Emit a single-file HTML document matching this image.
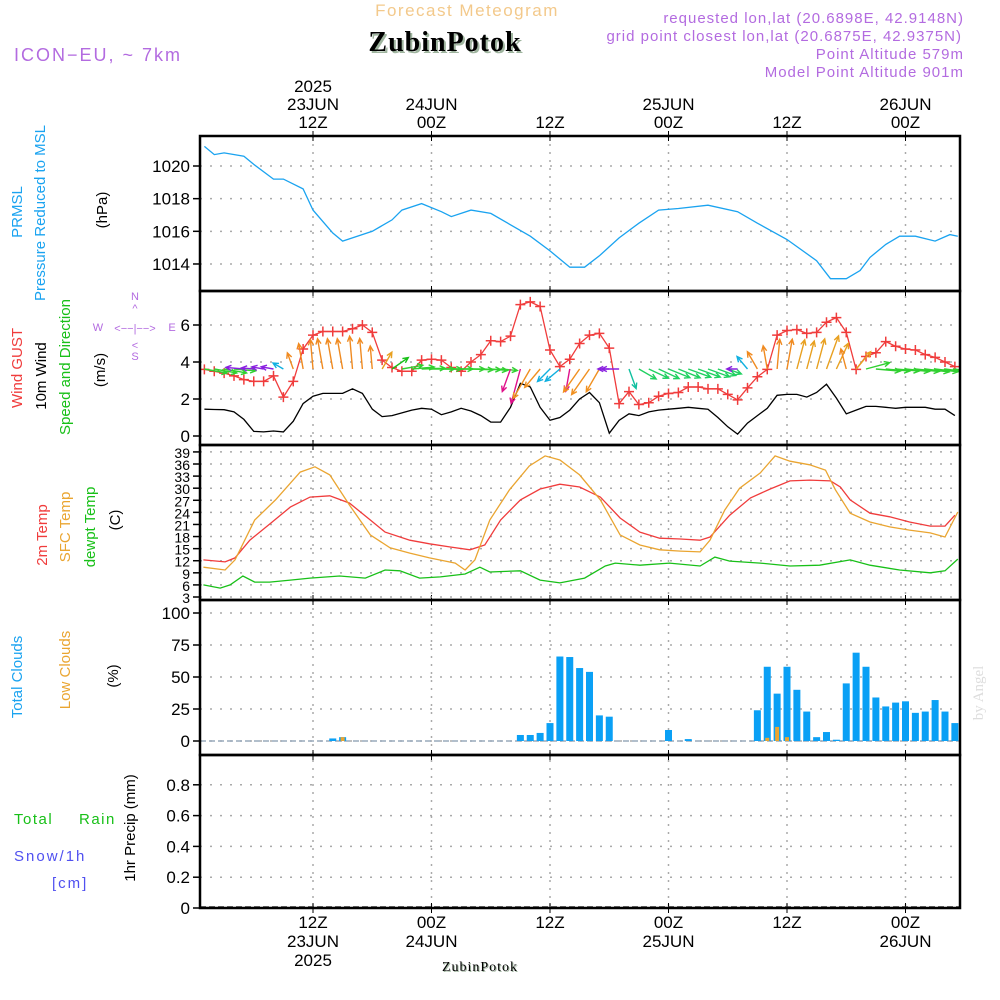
<!DOCTYPE html>
<html><head><meta charset="utf-8"><style>
body{margin:0;background:#fff}
svg{display:block;font-family:"Liberation Sans",sans-serif}
</style></head><body>
<svg id="chart" width="1000" height="1000" viewBox="0 0 1000 1000" xmlns="http://www.w3.org/2000/svg">
<defs><clipPath id="plotclip"><rect x="200" y="136" width="760" height="772"/></clipPath></defs>
<rect width="1000" height="1000" fill="#fff"/>
<text x="467" y="16" text-anchor="middle" font-size="17" fill="#f3c98b" letter-spacing="1.5">Forecast Meteogram</text>
<text x="447" y="53" text-anchor="middle" font-size="28" font-weight="bold" font-family="Liberation Serif, serif" fill="#9fb59f" letter-spacing="1">ZubinPotok</text>
<text x="445" y="51" text-anchor="middle" font-size="28" font-weight="bold" font-family="Liberation Serif, serif" fill="#000" letter-spacing="1">ZubinPotok</text>
<g font-size="15" fill="#b36be0" text-anchor="end" letter-spacing="1">
<text x="964" y="23">requested lon,lat (20.6898E, 42.9148N)</text>
<text x="962" y="41">grid point closest lon,lat (20.6875E, 42.9375N)</text>
<text x="964" y="59">Point Altitude 579m</text>
<text x="964" y="77">Model Point Altitude 901m</text>
</g>
<text x="14" y="61" font-size="18" fill="#b36be0" letter-spacing="2">ICON−EU, ~ 7km</text>
<g id="grid"></g>
<g id="marks" clip-path="url(#plotclip)"></g>
<g id="frame"></g>
<g id="labels" font-size="15">
<text transform="translate(22,212) rotate(-90)" text-anchor="middle" fill="#1aa3f0">PRMSL</text>
<text transform="translate(45,213) rotate(-90)" text-anchor="middle" fill="#1aa3f0">Pressure Reduced to MSL</text>
<text transform="translate(107,210) rotate(-90)" text-anchor="middle" fill="#000">(hPa)</text>
<text transform="translate(22,368) rotate(-90)" text-anchor="middle" fill="#f03c3c">Wind GUST</text>
<text transform="translate(46,376) rotate(-90)" text-anchor="middle" fill="#000">10m Wind</text>
<text transform="translate(70,367) rotate(-90)" text-anchor="middle" fill="#18c018">Speed and Direction</text>
<text transform="translate(105,370) rotate(-90)" text-anchor="middle" fill="#000">(m/s)</text>
<g fill="#b36be0" font-size="11" text-anchor="middle">
<text x="135" y="300">N</text><text x="135" y="312">^</text><text x="135" y="332">&lt;−−|−−&gt;</text><text x="98" y="331">W</text><text x="172" y="331">E</text><text x="135" y="349">&lt;</text><text x="135" y="360">S</text>
</g>
<text transform="translate(47,535) rotate(-90)" text-anchor="middle" fill="#f03c3c">2m Temp</text>
<text transform="translate(70,527) rotate(-90)" text-anchor="middle" fill="#eaa531">SFC Temp</text>
<text transform="translate(95,527) rotate(-90)" text-anchor="middle" fill="#18c018">dewpt Temp</text>
<text transform="translate(120,520) rotate(-90)" text-anchor="middle" fill="#000">(C)</text>
<text transform="translate(22,677) rotate(-90)" text-anchor="middle" fill="#1aa3f0">Total Clouds</text>
<text transform="translate(70,670) rotate(-90)" text-anchor="middle" fill="#eaa531">Low Clouds</text>
<text transform="translate(118,676) rotate(-90)" text-anchor="middle" fill="#000">(%)</text>
<text transform="translate(135,828) rotate(-90)" text-anchor="middle" fill="#000">1hr Precip (mm)</text>
<text x="14" y="824" fill="#18c018" letter-spacing="1.5">Total</text>
<text x="79" y="824" fill="#18c018" letter-spacing="1.5">Rain</text>
<text x="14" y="861" fill="#5050f0" letter-spacing="2">Snow/1h</text>
<text x="52" y="888" fill="#5050f0" letter-spacing="2">[cm]</text>
<text transform="translate(983,693) rotate(-90)" text-anchor="middle" font-family="Liberation Serif, serif" font-size="15" fill="#ddd">by Angel</text>
<text x="481" y="972" text-anchor="middle" font-size="14" font-family="Liberation Serif, serif" fill="#9fb59f" letter-spacing="1">ZubinPotok</text>
<text x="480" y="971" text-anchor="middle" font-size="14" font-family="Liberation Serif, serif" fill="#000" letter-spacing="1">ZubinPotok</text>
</g>
</svg>
<script>
const pressHours=[1,2,3,5,6,8,9,11,12,14,15,18,20,21,23,25,26,28,30,32,34,36,38,39.5,41,43,45,47,49,52,55,57,60,63,64.4,66,67.4,68.4,70,71.4,73,75,76.5,77.3];
const pressVals=[1021.2,1020.7,1020.8,1020.6,1020.1,1019.2,1019.2,1018.6,1017.3,1015.9,1015.4,1016,1016.7,1017.3,1017.7,1017.2,1016.9,1017.3,1017.1,1016.4,1015.7,1014.8,1013.8,1013.8,1014.5,1015.6,1016.5,1017.3,1017.4,1017.6,1017.2,1016.5,1015.5,1014.2,1013.1,1013.1,1013.6,1014.4,1015.2,1015.7,1015.7,1015.4,1015.8,1015.7];
const windSpeed=[1.45,1.43,1.42,1.3,0.9,0.25,0.22,0.27,0.22,0.8,1.75,2.15,2.3,2.3,2.3,2.55,2.3,1.45,1.05,1.1,1.25,1.4,1.5,1.45,1.15,1.3,1.5,1.35,1.1,0.75,0.75,1.55,2.85,2.65,1.55,0.85,1.0,1.4,2.0,2.35,1.8,0.15,0.85,1.2,1.1,1.3,1.4,1.45,1.5,1.55,1.5,1.45,1.0,0.5,0.1,0.7,1.1,1.5,2.2,2.25,2.25,2.1,2.35,2.8,2.05,1.2,1.4,1.6,1.6,1.55,1.5,1.55,1.55,1.55,1.45,1.45,1.1];
const gustSpeed=[3.6,3.5,3.4,3.25,3.05,2.95,2.95,3.25,2.1,2.95,4.7,5.45,5.65,5.65,5.65,5.8,6.0,5.6,4.1,3.7,3.5,3.5,4.1,4.15,4.1,3.7,3.5,4.0,4.4,5.15,5.1,5.4,7.1,7.25,7.0,4.65,3.75,4.15,5.0,5.45,5.55,4.75,1.75,2.4,1.7,1.8,2.15,2.3,2.35,2.65,2.65,2.55,2.55,2.25,1.95,2.6,3.2,3.6,5.45,5.7,5.75,5.55,5.6,6.15,6.4,5.6,3.6,4.3,4.5,5.1,4.85,4.7,4.65,4.4,4.25,4.0,3.75];
const windDir=[100,100,100,95,275,275,280,280,300,340,350,355,350,350,350,355,355,355,30,55,80,85,88,90,90,90,90,92,92,95,95,200,195,210,220,225,230,190,215,215,210,270,270,160,120,115,115,112,112,110,110,110,110,110,270,320,330,350,5,10,15,15,15,20,25,345,40,75,95,95,95,96,96,97,97,98,100];
const tempHours=[0.9,3.1,4.1,5.6,7.6,9.7,11.7,13.7,15.7,17.8,19.3,21.8,23.8,25.9,27.9,29.4,31.0,33.0,35.0,37.0,39.0,41.1,43.1,45.1,47.1,49.2,51.2,52.2,54.2,56.3,58.3,60.3,62.3,64.4,65.4,66.4,68.4,70.4,72.4,74.5,76.0,77.0];
const temp2m=[12.2,11.7,12.7,17.1,21.1,25.3,27.8,28.1,26.3,22.1,19.1,17.1,16.2,15.4,14.7,15.9,22.1,27.1,29.8,31.0,30.3,27.8,22.6,19.1,17.6,17.4,17.1,17.9,23.3,27.6,29.8,31.8,32.0,31.8,30.3,27.1,23.8,22.9,21.6,20.6,20.6,23.3];
const sfcHours=[0.9,3.1,4.1,6.1,8.2,10.7,12.2,13.7,15.7,17.8,19.8,21.8,23.8,26.4,27.4,28.4,29.9,31.9,33.9,35.5,37.0,39.0,41.1,43.1,45.1,47.1,49.2,51.2,52.2,53.7,55.2,57.3,58.8,60.3,62.3,63.9,64.9,66.4,68.4,70.4,72.4,74.5,76.0,77.3];
const tempSfc=[10.4,9.7,12.2,22.1,27.1,34.0,35.3,33.3,25.8,18.4,15.2,13.9,12.7,11.4,9.7,12.2,22.1,29.6,35.5,38.0,37.0,33.3,27.1,18.4,15.9,14.7,14.4,14.2,17.1,24.6,30.0,33.8,38.0,36.7,35.8,34.5,29.6,23.8,21.6,20.4,19.6,18.9,17.9,24.1];
const dewHours=[0.9,2.6,3.6,4.9,6.1,7.6,9.7,11.7,14.7,17.3,19.3,20.8,22.8,24.9,27.4,28.9,29.9,33.0,35.0,37.0,39.5,41.6,42.6,45.1,48.1,51.2,52.7,54.2,57.3,60.3,63.3,66.4,68.4,71.4,74.5,76.0,77.3];
const tempDew=[6.0,5.2,6.0,8.2,6.7,6.7,7.2,7.7,8.2,7.7,9.7,9.5,7.7,8.0,8.7,10.4,9.2,9.5,7.2,6.5,7.7,10.7,11.4,10.9,11.4,10.7,12.9,11.9,11.4,10.7,10.9,12.2,10.9,9.7,9.0,9.5,12.4];
const totalClouds=[0,0,0,0,0,0,0,0,0,0,0,0,0,2,3,0,0,0,0,0,0,0,0,0,0,0,0,0,0,0,0,0,4.7,4.7,6.3,14,66,65.6,57,54,20,19,0,0,0,0,0,8.6,0,1.5,0,0,0,0,0,0,24,58,37,58,40,23,3,7,1,45,69,58,34,27,30,31,22,23,32,23,14];
const lowClouds=[0,0,0,0,0,0,0,0,0,0,0,0,0,0,3,0,0,0,0,0,0,0,0,0,0,0,0,0,0,0,0,0,0,0,0,0,0,0,0,0,0,0,0,0,0,0,0,0,0,0,0,0,0,0,0,0,0,2.5,11,3,0,0,0,0,0,0,0,0,0,0,0,0,0,0,0,0,0];
const precip=[];
const pressTicks=[1014,1016,1018,1020];
const windTicks=[0,2,4,6];
const tempTicks=[3,6,9,12,15,18,21,24,27,30,33,36,39];
const cloudTicks=[0,25,50,75,100];
const precipTicks=["0","0.2","0.4","0.6","0.8"];
const timeTickHours=[12,24,36,48,60,72];
const timeTickHour=["12Z","00Z","12Z","00Z","12Z","00Z"];
const timeTickDay=["23JUN","24JUN","","25JUN","","26JUN"];

const NS="http://www.w3.org/2000/svg";
const X=h=>313+(h-12)*9.875;
const yP=p=>166+(1020-p)*16.33;
const yW=v=>436-v*18.5;
const yT=t=>597-(t-3)*4.03;
const yC=c=>741-c*1.28;
const yR=m=>908-m*154;
const L=200,R=960;
function mk(tag,attrs,parent){const e=document.createElementNS(NS,tag);for(const k in attrs)e.setAttribute(k,attrs[k]);parent.appendChild(e);return e;}
const grid=document.getElementById('grid'),marks=document.getElementById('marks'),frame=document.getElementById('frame');
const panels=[[136,291],[291,445],[445,600],[600,755],[755,908]];
timeTickHours.forEach((h,i)=>{
  const l=mk('line',{x1:X(h),x2:X(h),y1:136,y2:908,stroke:'#aaa','stroke-width':1.5,'stroke-dasharray':'2,6'},grid);
  
  
  const t1=mk('text',{x:X(h),y:128,'text-anchor':'middle','font-size':17,fill:'#000'},grid);t1.textContent=timeTickHour[i];
  
  
  if(timeTickDay[i]){const t2=mk('text',{x:X(h),y:110,'text-anchor':'middle','font-size':17,fill:'#000'},grid);t2.textContent=timeTickDay[i];
  
  
  const t4=mk('text',{x:X(h),y:947,'text-anchor':'middle','font-size':17,fill:'#000'},grid);t4.textContent=timeTickDay[i];
  
  }
  const t3=mk('text',{x:X(h),y:928,'text-anchor':'middle','font-size':17,fill:'#000'},grid);t3.textContent=timeTickHour[i];
  
  
  for(const yy of [136,291,445,600,755,908]){mk('line',{x1:X(h),x2:X(h),y1:yy-5,y2:yy+5,stroke:'#000','stroke-width':1},grid);}
});
[[92,'2025'],[966,'2025']].forEach(([yy,s])=>{const t=mk('text',{x:X(12),y:yy,'text-anchor':'middle','font-size':17},grid);t.textContent=s;
  
  });
function yticks(vals,fn,labels,name){
  vals.forEach((v,i)=>{const y=fn(+v);
    const g=mk('line',{x1:L,x2:R,y1:y,y2:y,stroke:'#aaa','stroke-width':1.5,'stroke-dasharray':'2,8'},grid);
    
    
    mk('line',{x1:L-7,x2:L,y1:y,y2:y,stroke:'#000','stroke-width':1.5},grid);
    const t=mk('text',{x:L-10,y:y+6,'text-anchor':'end','font-size':name==='temp'?14:17},grid);t.textContent=labels?labels[i]:v;
    
    });
}
yticks(pressTicks,yP,null,'pressure');
yticks(windTicks,yW,null,'wind');
yticks(tempTicks,yT,null,'temp');
yticks(cloudTicks,yC,null,'cloud');
yticks(precipTicks,yR,precipTicks,'precip');
function line(hs,vs,fn,color,name,w){
  const pts=hs.map((h,i)=>X(h).toFixed(1)+','+fn(vs[i]).toFixed(1)).join(' ');
  const p=mk('polyline',{points:pts,fill:'none',stroke:color,'stroke-width':w||1.3},marks);
  
  
}
line(pressHours,pressVals,yP,'#1aa3f0','pressure-line');
const hourly=windSpeed.map((_,i)=>i+1);
line(hourly,windSpeed,yW,'#000','wind10m-line');
line(hourly,gustSpeed,yW,'#f03c3c','gust-line');
gustSpeed.forEach((g,i)=>{const x=X(i+1),y=yW(g);
  const p=mk('path',{d:`M${x-5},${y}H${x+5}M${x},${y-5}V${y+5}`,stroke:'#f03c3c','stroke-width':1.5},marks);
  
  });
function dirColor(d){
  if(d>=330||d<15) return '#f08a20';
  if(d<45) return '#e8a020';
  if(d<75) return '#18c018';
  if(d<105) return '#30d030';
  if(d<150) return '#20d060';
  if(d<180) return '#10c0a0';
  if(d<208) return '#e0108a';
  if(d<225) return '#f09020';
  if(d<260) return '#10b0e0';
  if(d<290) return '#8a20e0';
  return '#10b0e0';
}
windDir.forEach((d,i)=>{
  const x0=X(i+1),y0=369,len=10+9*windSpeed[i],a=d*Math.PI/180;
  const x1=x0+len*Math.sin(a),y1=y0-len*Math.cos(a);
  const col=dirColor(d);
  const b1=a+Math.PI-0.45,b2=a+Math.PI+0.45;
  const p=mk('path',{d:`M${x0},${y0}L${x1},${y1}M${x1+6*Math.sin(b1)},${y1-6*Math.cos(b1)}L${x1},${y1}L${x1+6*Math.sin(b2)},${y1-6*Math.cos(b2)}`,stroke:col,'stroke-width':1.4,fill:'none'},marks);
  
  
});
line(tempHours,temp2m,yT,'#f03c3c','temp2m-line');
line(sfcHours,tempSfc,yT,'#eaa531','sfc-temp-line');
line(dewHours,tempDew,yT,'#18c018','dewpoint-line');
mk('line',{x1:L,x2:R,y1:741,y2:741,stroke:'#9ab',"stroke-width":1.5,'stroke-dasharray':'6,3'},marks);
totalClouds.forEach((c,i)=>{if(c<=0)return;const x=X(i+1);
  const r=mk('rect',{x:x-3.5,y:yC(c),width:7,height:yC(0)-yC(c),fill:'#0aa0f5'},marks);
  
  });
lowClouds.forEach((c,i)=>{if(c<=0)return;const x=X(i+1);
  const r=mk('rect',{x:x-2,y:yC(c),width:4,height:yC(0)-yC(c),fill:'#eaa531'},marks);
  
  });
precip.forEach((m,i)=>{if(m<=0)return;const x=X(i+1);
  const r=mk('rect',{x:x-3.5,y:yR(m),width:7,height:yR(0)-yR(m),fill:'#18c018'},marks);
  
  });
mk('line',{x1:L,x2:R,y1:907,y2:907,stroke:'#333','stroke-width':1.5,'stroke-dasharray':'6,3'},marks);
panels.forEach(([a,b])=>{const r=mk('rect',{x:L,y:a,width:R-L,height:b-a,fill:'none',stroke:'#000','stroke-width':2.5},frame);
  
  });
</script>
</body></html>
